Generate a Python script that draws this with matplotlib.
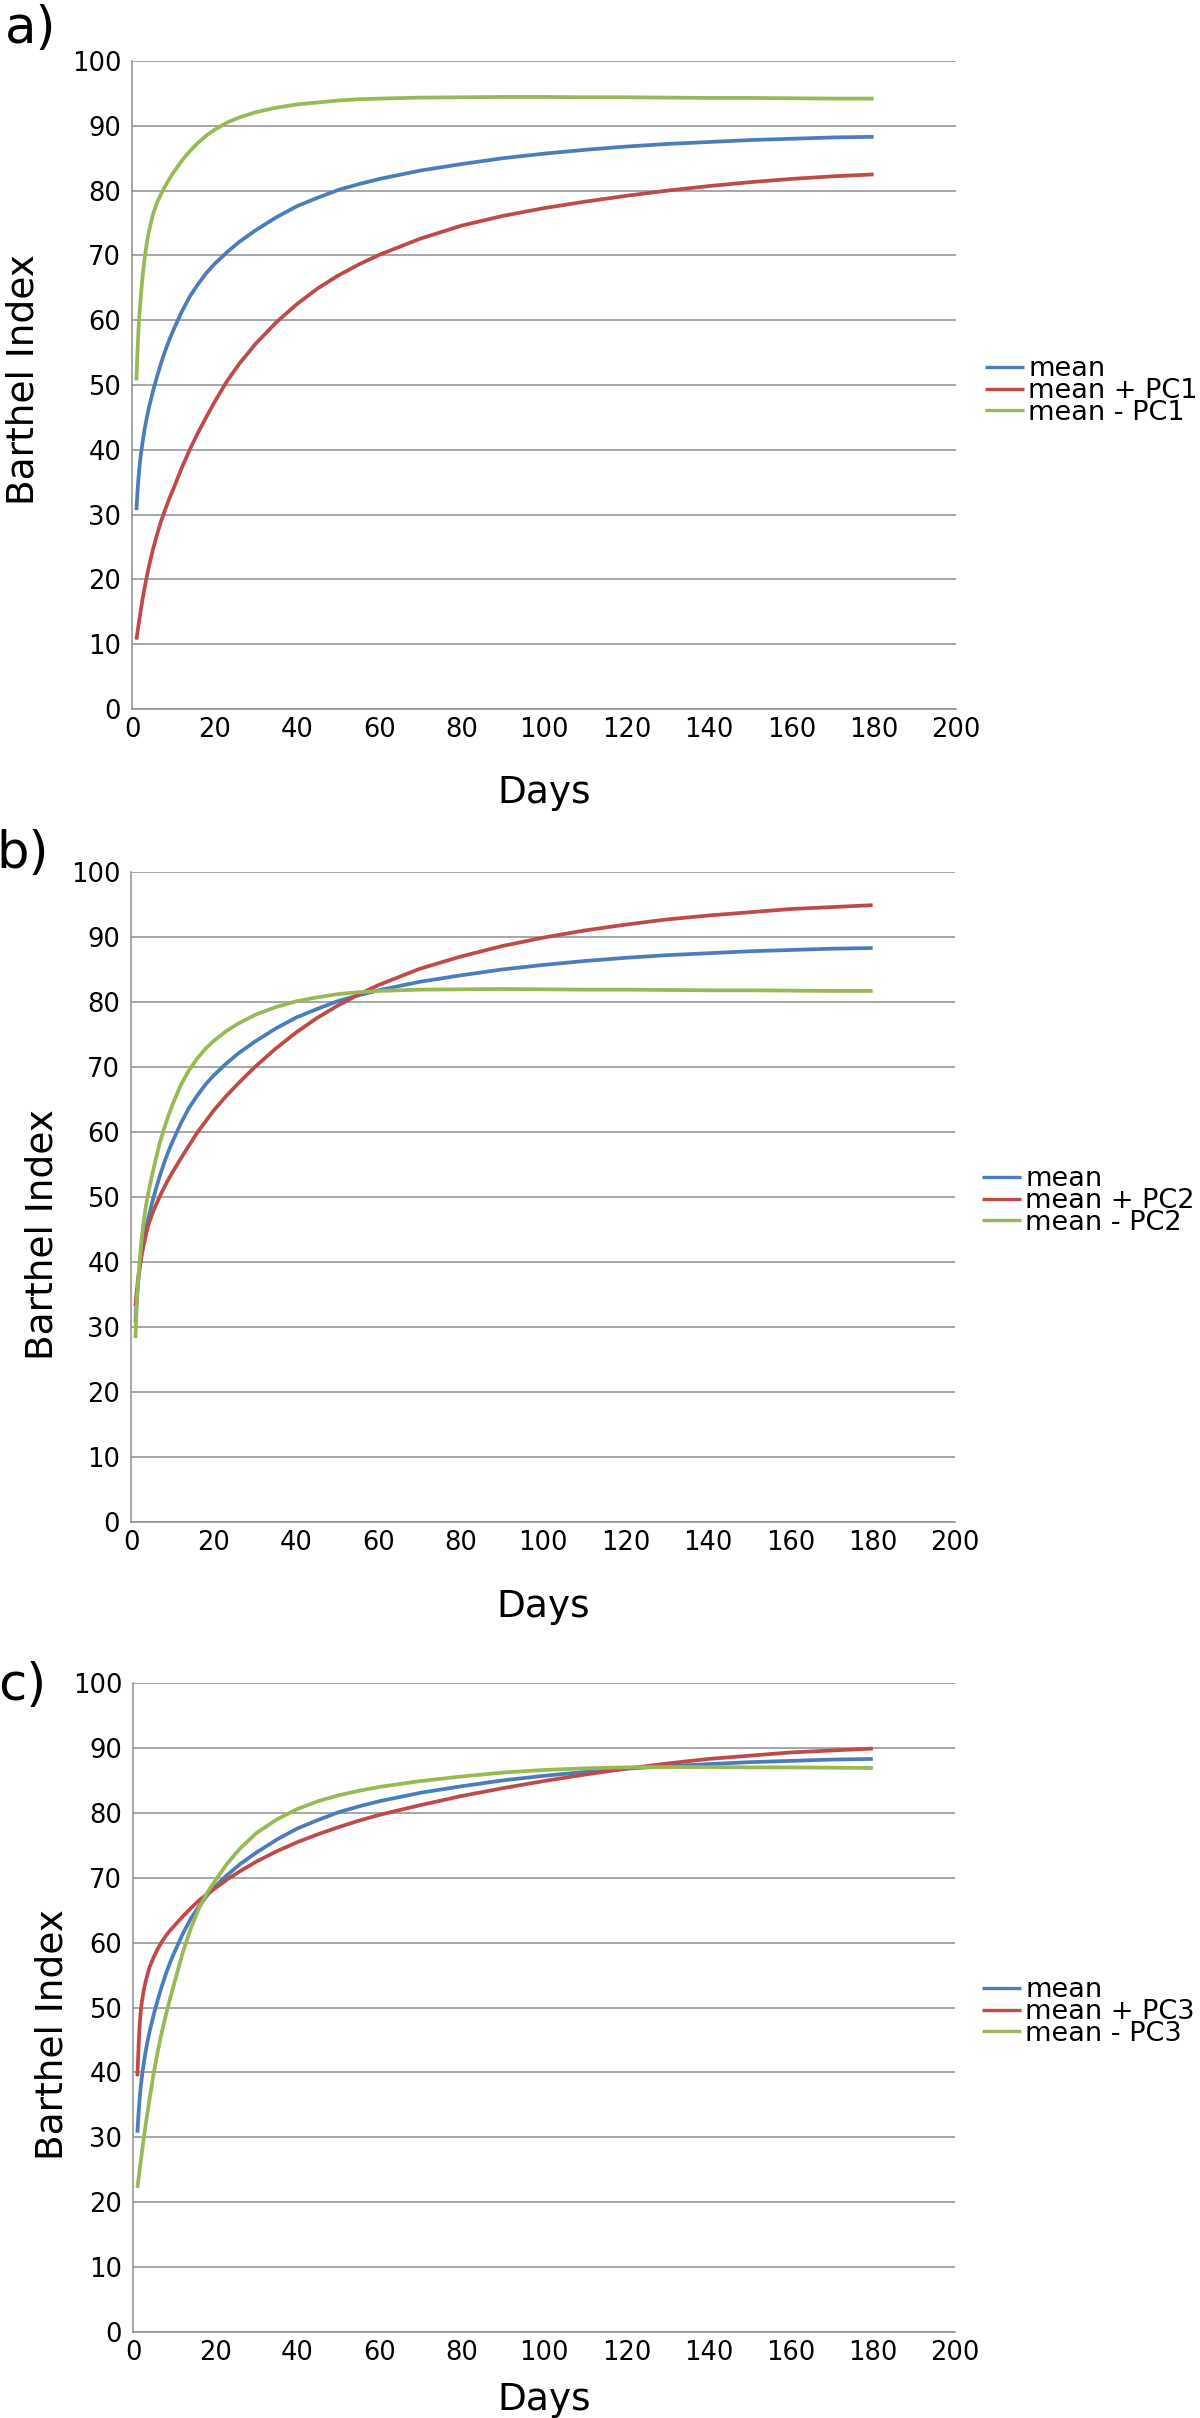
import matplotlib
matplotlib.use("Agg")
import matplotlib.pyplot as plt

plt.rcParams['font.family'] = ['DejaVu Sans']

# ---------------- data ----------------
days = [1, 1.25, 1.5, 1.75, 2, 2.5, 3, 3.5, 4, 5, 6, 7, 8, 9, 10, 12, 14, 16, 18, 20,
        23, 26, 30, 35, 40, 45, 50, 55, 60, 70, 80, 90, 100, 110, 120, 130, 140, 150, 160, 170, 180]

mean = [30.7, 33.4, 35.6, 37.4, 38.9, 41.2, 43.2, 44.9, 46.4, 49.0, 51.3, 53.4, 55.3, 57.0, 58.5,
        61.3, 63.7, 65.6, 67.3, 68.7, 70.5, 72.1, 73.9, 75.9, 77.6, 78.9, 80.1, 81.0, 81.8, 83.1,
        84.1, 85.0, 85.7, 86.3, 86.8, 87.2, 87.5, 87.8, 88.0, 88.2, 88.3]

# panel a (PC1)
mean_plus_pc1 = [10.7, 11.8, 12.9, 14.0, 15.0, 17.0, 18.7, 20.4, 21.9, 24.6, 26.9, 29.0, 30.8, 32.5,
                 34.0, 37.2, 40.1, 42.7, 45.1, 47.4, 50.6, 53.3, 56.4, 59.7, 62.5, 64.9, 66.9, 68.6,
                 70.1, 72.6, 74.6, 76.1, 77.3, 78.3, 79.2, 80.0, 80.7, 81.3, 81.8, 82.2, 82.5]
mean_minus_pc1 = [50.7, 55.0, 58.5, 61.0, 63.2, 66.8, 69.6, 71.8, 73.6, 76.3, 78.1, 79.5, 80.7, 81.8,
                  82.8, 84.6, 86.1, 87.4, 88.5, 89.4, 90.5, 91.3, 92.1, 92.8, 93.3, 93.6, 93.9, 94.1,
                  94.2, 94.35, 94.4, 94.45, 94.45, 94.4, 94.4, 94.35, 94.3, 94.3, 94.25, 94.2, 94.2]

# panel b (PC2)
mean_plus_pc2 = [33.2, 35.0, 36.5, 37.9, 39.1, 41.0, 42.6, 44.0, 45.4, 47.3, 48.8, 50.2, 51.5, 52.7,
                 53.8, 55.9, 57.9, 59.9, 61.6, 63.3, 65.5, 67.5, 70.0, 72.8, 75.3, 77.5, 79.4, 81.1,
                 82.6, 85.1, 87.0, 88.6, 89.9, 91.0, 91.9, 92.7, 93.3, 93.8, 94.3, 94.6, 94.9]
mean_minus_pc2 = [28.3, 32.3, 35.5, 38.0, 40.0, 43.5, 46.2, 48.4, 50.2, 53.2, 56.0, 58.5, 60.6, 62.5,
                  64.2, 67.2, 69.5, 71.3, 72.8, 74.0, 75.5, 76.7, 78.0, 79.2, 80.1, 80.7, 81.2, 81.5,
                  81.7, 81.9, 81.95, 82.0, 81.95, 81.9, 81.9, 81.85, 81.8, 81.8, 81.75, 81.7, 81.7]

# panel c (PC3)
mean_plus_pc3 = [39.4, 43.5, 46.8, 49.0, 50.5, 52.5, 54.0, 55.2, 56.3, 57.8, 59.1, 60.2, 61.1, 61.9,
                 62.6, 64.0, 65.3, 66.5, 67.5, 68.4, 69.8, 71.0, 72.5, 74.1, 75.5, 76.7, 77.8, 78.8,
                 79.7, 81.2, 82.6, 83.8, 84.9, 85.9, 86.8, 87.6, 88.3, 88.8, 89.3, 89.6, 89.9]
mean_minus_pc3 = [22.2, 23.5, 24.8, 26.0, 27.2, 29.6, 31.9, 34.0, 36.1, 40.0, 43.4, 46.4, 49.0, 51.5,
                  53.8, 58.4, 62.2, 65.3, 67.7, 69.6, 72.3, 74.5, 76.9, 79.0, 80.6, 81.8, 82.7, 83.4,
                  84.0, 84.9, 85.6, 86.2, 86.6, 86.85, 87.0, 87.05, 87.05, 87.0, 87.0, 86.95, 86.9]

panel_letters = ["a)", "b)", "c)"]
pc_names = ["PC1", "PC2", "PC3"]
x_ticks = [0, 20, 40, 60, 80, 100, 120, 140, 160, 180, 200]
y_ticks = [0, 10, 20, 30, 40, 50, 60, 70, 80, 90, 100]

# ---------------- style ----------------
C_BLUE = "#4A7EBB"
C_RED = "#BE4B48"
C_GREEN = "#98B954"
C_GRID = "#8E8E8E"

W, H = 1200, 2418
fig = plt.figure(figsize=(W / 100, H / 100), dpi=100)

# axes boxes in pixels: (left, top, right, bottom)
boxes = [(132.3, 61, 956, 709), (131.3, 872, 955, 1522), (133.3, 1683, 955, 2332)]
ylabel_pos = [(-0.110, 0.509), (-0.086, 0.442), (-0.077, 0.458)]
xlabel_pad = [23, 23.5, 11]
legend_pos = [(985, 391), (982, 1201), (982, 2012)]
letter_pos = [(4.5, 43.5), (-4, 868), (-2, 1700)]

plus_series = [mean_plus_pc1, mean_plus_pc2, mean_plus_pc3]
minus_series = [mean_minus_pc1, mean_minus_pc2, mean_minus_pc3]

for i in range(3):
    l, t, r, b = boxes[i]
    ax = fig.add_axes([l / W, 1 - b / H, (r - l) / W, (b - t) / H])
    lw = 2.7
    ax.plot(days, mean, color=C_BLUE, lw=lw, label="mean", solid_capstyle="butt", solid_joinstyle="round")
    ax.plot(days, plus_series[i], color=C_RED, lw=lw, label="mean + " + pc_names[i],
            solid_capstyle="butt", solid_joinstyle="round")
    ax.plot(days, minus_series[i], color=C_GREEN, lw=lw, label="mean - " + pc_names[i],
            solid_capstyle="butt", solid_joinstyle="round")

    ax.set_xlim(0, 200)
    ax.set_ylim(0, 100)
    ax.set_xticks(x_ticks)
    ax.set_yticks(y_ticks)
    ax.tick_params(axis="both", length=0, labelsize=18.5, colors="black")
    ax.tick_params(axis="x", pad=6)
    ax.tick_params(axis="y", pad=8)
    ax.grid(axis="y", color=C_GRID, lw=1.1)
    ax.set_axisbelow(True)
    for s in ["top", "right"]:
        ax.spines[s].set_visible(False)
    for s in ["left", "bottom"]:
        ax.spines[s].set_color(C_GRID)
        ax.spines[s].set_linewidth(1.1)

    ax.set_xlabel("Days", fontsize=27, labelpad=xlabel_pad[i])
    ax.set_ylabel("Barthel Index", fontsize=27)
    ax.yaxis.set_label_coords(*ylabel_pos[i])

    lx, ly = legend_pos[i]
    leg = ax.legend(loc="center left", bbox_to_anchor=(lx / W, 1 - ly / H), bbox_transform=fig.transFigure,
                    frameon=False, borderpad=0, borderaxespad=0, handlelength=1.44, handletextpad=0.15,
                    labelspacing=-0.16, fontsize=19.5)
    for h in leg.get_lines():
        h.set_linewidth(2.4)

    px, py = letter_pos[i]
    fig.text(px / W, 1 - py / H, panel_letters[i], fontsize=37, ha="left", va="baseline")

fig.savefig("out.png", dpi=100)
